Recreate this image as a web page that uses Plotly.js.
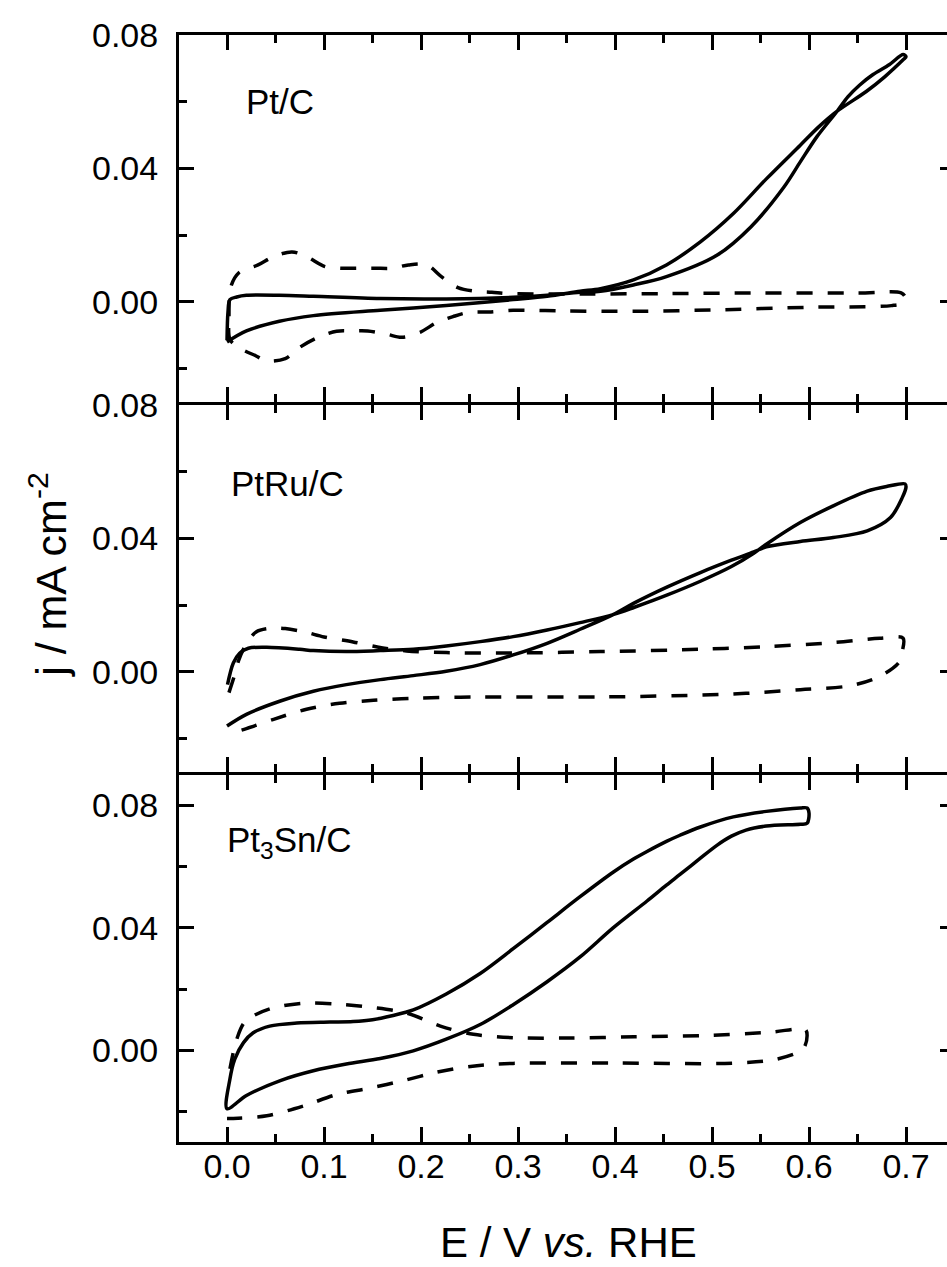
<!DOCTYPE html>
<html>
<head>
<meta charset="utf-8">
<script src="https://cdn.plot.ly/plotly-3.0.1.min.js"></script>
<style>
html,body{margin:0;padding:0;overflow:hidden;background:#fff;}
#chart{width:962px;height:1267px;}
</style>
</head>
<body>
<div id="chart"></div>
<script>
// ---- Data (E / V vs RHE, j / mA cm^-2) ----
// Pt/C
var ptc_solid_x = [0,0.020,0.054,0.089,0.158,0.226,0.295,0.330,0.364,0.385,0.419,0.453,0.488,0.522,0.556,0.591,0.610,0.629,0.659,0.678,0.697,0.700,0.697,0.683,0.666,0.652,0.640,0.629,0.608,0.591,0.574,0.540,0.505,0.453,0.419,0.385,0.364,0.330,0.295,0.226,0.158,0.089,0.054,0.020,0.010,0.003,0.001,0];
var ptc_solid_y = [-0.0120,-0.0087,-0.0058,-0.0041,-0.0025,-0.0011,0.0007,0.0017,0.0032,0.0040,0.0066,0.0111,0.0180,0.0265,0.0369,0.0470,0.0525,0.0572,0.0631,0.0675,0.0726,0.0735,0.0742,0.0712,0.0682,0.0650,0.0615,0.0572,0.0495,0.0420,0.0344,0.0225,0.0140,0.0076,0.0051,0.0032,0.0029,0.0020,0.0014,0.0009,0.0010,0.0017,0.0020,0.0020,0.0015,0.0007,-0.0030,-0.0115];
var ptc_dash_x = [0.003,0.002,0.004,0.012,0.032,0.048,0.067,0.082,0.101,0.118,0.135,0.153,0.170,0.187,0.206,0.221,0.238,0.256,0.273,0.290,0.364,0.450,0.550,0.650,0.695,0.699,0.697,0.685,0.600,0.500,0.420,0.350,0.295,0.270,0.248,0.233,0.216,0.199,0.180,0.165,0.145,0.128,0.113,0.094,0.075,0.060,0.041,0.030,0.011,0.003];
var ptc_dash_y = [-0.0112,-0.0043,0.0046,0.0087,0.0111,0.0136,0.0150,0.0136,0.0106,0.0101,0.0101,0.0101,0.0101,0.0111,0.0111,0.0076,0.0043,0.0032,0.0029,0.0025,0.0024,0.0025,0.0027,0.0027,0.0027,0.0015,-0.0003,-0.0011,-0.0016,-0.0024,-0.0028,-0.0027,-0.0025,-0.0030,-0.0032,-0.0044,-0.0062,-0.0091,-0.0106,-0.0097,-0.0087,-0.0087,-0.0088,-0.0106,-0.0136,-0.0170,-0.0177,-0.0162,-0.0135,-0.0112];

// PtRu/C
var ptru_solid_x = [0.0005,0.0065,0.013,0.022,0.041,0.075,0.089,0.123,0.158,0.192,0.226,0.261,0.295,0.330,0.364,0.398,0.420,0.454,0.488,0.520,0.543,0.556,0.591,0.625,0.660,0.680,0.699,0.700,0.696,0.684,0.660,0.625,0.591,0.556,0.543,0.520,0.488,0.454,0.420,0.398,0.364,0.330,0.295,0.261,0.226,0.192,0.158,0.123,0.089,0.055,0.020,0];
var ptru_solid_y = [-0.0038,0.0027,0.0056,0.0071,0.0074,0.0068,0.0064,0.0061,0.0064,0.0068,0.0078,0.0091,0.0106,0.0126,0.0148,0.0172,0.0194,0.0231,0.0272,0.0316,0.0356,0.0383,0.0448,0.0498,0.0542,0.0556,0.0564,0.0555,0.0522,0.0463,0.0423,0.0403,0.0391,0.0375,0.0360,0.0335,0.0298,0.0255,0.0207,0.0172,0.0128,0.0086,0.0051,0.0022,0.0002,-0.0011,-0.0023,-0.0038,-0.0058,-0.0087,-0.0127,-0.0162];
var ptru_dash_x = [0.002,0.007,0.012,0.020,0.030,0.045,0.060,0.080,0.100,0.130,0.155,0.185,0.226,0.295,0.385,0.488,0.556,0.625,0.673,0.697,0.696,0.693,0.673,0.643,0.591,0.522,0.385,0.261,0.192,0.151,0.116,0.082,0.048,0.020,0.0065];
var ptru_dash_y = [-0.0062,-0.0017,0.0035,0.0085,0.0120,0.0131,0.0130,0.0120,0.0105,0.0090,0.0075,0.0063,0.0058,0.0057,0.0061,0.0068,0.0076,0.0088,0.0101,0.0101,0.0060,0.0030,-0.0013,-0.0041,-0.0053,-0.0066,-0.0075,-0.0075,-0.0079,-0.0085,-0.0094,-0.0112,-0.0142,-0.0170,-0.0181];

// Pt3Sn/C
var ptsn_solid_x = [0,0.003,0.008,0.017,0.027,0.044,0.072,0.106,0.130,0.150,0.170,0.192,0.226,0.261,0.295,0.330,0.364,0.398,0.419,0.433,0.453,0.467,0.488,0.522,0.556,0.591,0.598,0.600,0.598,0.591,0.556,0.535,0.520,0.505,0.488,0.467,0.453,0.433,0.398,0.364,0.330,0.295,0.261,0.226,0.192,0.158,0.123,0.089,0.055,0.020,0];
var ptsn_solid_y = [-0.0191,-0.0094,-0.0029,0.0025,0.0057,0.0079,0.0089,0.0092,0.0094,0.0100,0.0113,0.0132,0.0184,0.0251,0.0332,0.0418,0.0502,0.0582,0.0625,0.0650,0.0683,0.0703,0.0730,0.0763,0.0781,0.0792,0.0792,0.0775,0.0742,0.0739,0.0733,0.0720,0.0700,0.0670,0.0628,0.0575,0.0540,0.0488,0.0400,0.0305,0.0224,0.0149,0.0084,0.0036,-0.0002,-0.0027,-0.0045,-0.0067,-0.0099,-0.0148,-0.0191];
var ptsn_dash_x = [0.003,0.010,0.019,0.044,0.079,0.113,0.149,0.185,0.220,0.254,0.295,0.350,0.420,0.490,0.560,0.596,0.598,0.594,0.567,0.522,0.400,0.295,0.251,0.216,0.182,0.147,0.113,0.079,0.041,0.0065,0];
var ptsn_dash_y = [-0.0061,0.0036,0.0095,0.0135,0.0154,0.0151,0.0140,0.0122,0.0079,0.0052,0.0041,0.0040,0.0044,0.0048,0.0059,0.0068,0.0050,0.0005,-0.0029,-0.0042,-0.0042,-0.0043,-0.0053,-0.0072,-0.0099,-0.0124,-0.0145,-0.0182,-0.0214,-0.0223,-0.0223];

var xTickVals = [0,0.1,0.2,0.3,0.4,0.5,0.6,0.7];
var xTickText = ['0.0','0.1','0.2','0.3','0.4','0.5','0.6','0.7'];
var yTickVals = [0,0.04,0.08];
var yTickText = ['0.00','0.04','0.08'];
var panelLabels = ['Pt/C','PtRu/C','Pt<sub>3</sub>Sn/C'];

// ---- Build ----
var FONT = 'Liberation Sans, Arial, sans-serif';
function tr(x,y,xa,ya,dash){
  return {x:x,y:y,xaxis:xa,yaxis:ya,mode:'lines',type:'scatter',
    line:{color:'#000',width:3.5,dash:dash?'16px,15px':'solid',shape:'spline',smoothing:0.9},
    hoverinfo:'skip',showlegend:false};
}
var data = [
  tr(ptc_dash_x,ptc_dash_y,'x','y',true),
  tr(ptc_solid_x,ptc_solid_y,'x','y',false),
  tr(ptru_dash_x,ptru_dash_y,'x2','y2',true),
  tr(ptru_solid_x,ptru_solid_y,'x2','y2',false),
  tr(ptsn_dash_x,ptsn_dash_y,'x3','y3',true),
  tr(ptsn_solid_x,ptsn_solid_y,'x3','y3',false)
];
function xax(anchor,labels){
  return {anchor:anchor,domain:[0,1],range:[-0.0495,0.7505],tickmode:'array',tickvals:xTickVals,ticktext:xTickText,
    showticklabels:labels,ticks:'inside',ticklen:15,tickwidth:3,tickcolor:'#000',
    showline:true,linewidth:3,linecolor:'#000',mirror:'ticks',showgrid:false,zeroline:false,
    minor:{ticks:'inside',ticklen:8,tickwidth:3,tickcolor:'#000',dtick:0.05,tick0:0,showgrid:false},
    tickfont:{family:FONT,size:34,color:'#000'},ticklabelstandoff:-8};
}
function yax(anchor,dom,rng){
  return {anchor:anchor,domain:dom,range:rng,tickmode:'array',tickvals:yTickVals,ticktext:yTickText,
    ticks:'inside',ticklen:15,tickwidth:3,tickcolor:'#000',
    showline:true,linewidth:3,linecolor:'#000',mirror:'ticks',showgrid:false,zeroline:false,
    minor:{ticks:'inside',ticklen:8,tickwidth:3,tickcolor:'#000',dtick:0.02,tick0:0,showgrid:false},
    tickfont:{family:FONT,size:34,color:'#000'},ticklabelstandoff:11};
}
// plot area 35..1142 (1107 px); panels separated so shared borders coincide
var H = 1107;
var layout = {
  width:962,height:1267,margin:{l:179,r:7,t:35,b:125},
  paper_bgcolor:'#fff',plot_bgcolor:'rgba(0,0,0,0)',showlegend:false,
  xaxis:xax('y',false), yaxis:yax('x',[740/H,1],[-0.03,0.08005]),
  xaxis2:xax('y2',false), yaxis2:yax('x2',[370/H,737/H],[-0.03,0.08005]),
  xaxis3:xax('y3',true), yaxis3:yax('x3',[0,367/H],[-0.03,0.09]),
  annotations:[
    {text:panelLabels[0],xref:'x',yref:'y',x:0.018,y:0.060,xanchor:'left',yanchor:'middle',showarrow:false,font:{family:FONT,size:35,color:'#000'}},
    {text:panelLabels[1],xref:'x2',yref:'y2',x:0.002,y:0.0564,xanchor:'left',yanchor:'middle',showarrow:false,font:{family:FONT,size:35,color:'#000'}},
    {text:panelLabels[2],xref:'x3',yref:'y3',x:-0.002,y:0.0682,xanchor:'left',yanchor:'middle',showarrow:false,font:{family:FONT,size:35,color:'#000'}},
    {text:'E / V <i>vs.</i> RHE',xref:'paper',yref:'paper',x:0.502,y:-0.0905,xanchor:'center',yanchor:'middle',showarrow:false,font:{family:FONT,size:42,color:'#000'}},
    {text:'j / mA cm<sup>-2</sup>',xref:'paper',yref:'paper',x:-0.168,y:0.512,xanchor:'center',yanchor:'middle',textangle:-90,showarrow:false,font:{family:FONT,size:43,color:'#000'}}
  ]
};
Plotly.newPlot('chart',data,layout,{staticPlot:true,displayModeBar:false});
</script>
</body>
</html>
